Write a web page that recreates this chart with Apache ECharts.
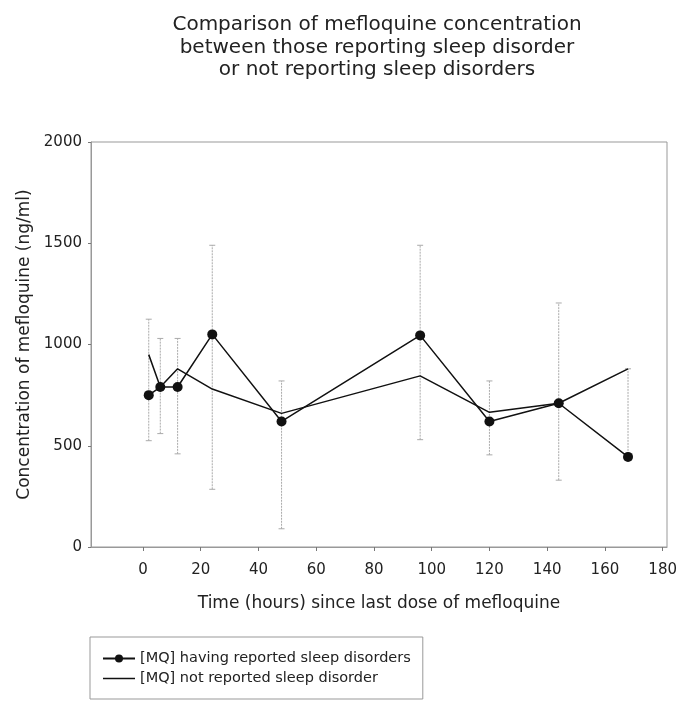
<!DOCTYPE html>
<html>
<head>
<meta charset="UTF-8">
<title>Mefloquine concentration</title>
<script type="text/javascript" src="https://cdn.jsdelivr.net/npm/echarts@6/dist/echarts.min.js"></script>
<style>
	html, body { margin: 0; padding: 0; background: #fff; }
</style>
</head>
<body>
	<div id="box" style="width:685px;height:702px;"></div>
	<script type="text/javascript">
		// hours since last dose
		var hours = [2, 6, 12, 24, 48, 96, 120, 144, 168];
		// [MQ] ng/ml
		var sleepDisorder = [750, 790, 790, 1050, 620, 1045, 620, 710, 445];
		var noSleepDisorder = [950, 790, 880, 780, 660, 845, 665, 710, 880];
		// error bar low / high
		var barLow = [525, 560, 460, 285, 90, 530, 455, 330, 445];
		var barHigh = [1125, 1030, 1030, 1490, 820, 1490, 820, 1205, 880];
		var xTicks = [0, 20, 40, 60, 80, 100, 120, 140, 160, 180];

		var font = 'DejaVu Sans, Liberation Sans, sans-serif';
		var ink = '#222';

		function pairs(ys) {
			return hours.map(function (h, i) { return [h, ys[i]]; });
		}
		var bars = hours.map(function (h, i) { return [h, barLow[i], barHigh[i]]; });

		var mychart = echarts.init(document.getElementById('box'));
		var option = {
			animation: false,
			title: {
				text: 'Comparison of mefloquine concentration\nbetween those reporting sleep disorder\nor not reporting sleep disorders',
				left: 372,
				top: 9,
				textAlign: 'center',
				textStyle: { fontFamily: font, fontSize: 20, fontWeight: 'normal', color: ink, lineHeight: 22.5 }
			},
			legend: {
				orient: 'vertical',
				left: 90,
				top: 637,
				padding: [14, 12, 13, 12],
				itemGap: 5,
				itemWidth: 32,
				itemHeight: 10,
				borderColor: '#999',
				borderWidth: 1,
				textStyle: { fontFamily: font, fontSize: 14.5, color: ink },
				data: [
					'[MQ] having reported sleep disorders',
					{ name: '[MQ] not reported sleep disorder', icon: 'path://M0,0L32,0L32,1.5L0,1.5Z' }
				]
			},
			grid: {
				left: 91, right: 18, top: 142, bottom: 155,
				show: true, borderColor: '#999', borderWidth: 1
			},
			xAxis: {
				type: 'value',
				min: -18,
				max: 181.5,
				name: 'Time (hours) since last dose of mefloquine',
				nameLocation: 'middle',
				nameGap: 48,
				nameTextStyle: { fontFamily: font, fontSize: 17, color: ink },
				axisLine: { lineStyle: { color: '#999' } },
				axisTick: { customValues: xTicks, length: 4, lineStyle: { color: '#777' } },
				axisLabel: { customValues: xTicks, margin: 16, fontFamily: font, fontSize: 15, color: ink },
				splitLine: { show: false }
			},
			yAxis: {
				type: 'value',
				min: 0,
				max: 2000,
				interval: 500,
				name: 'Concentration of mefloquine (ng/ml)',
				nameLocation: 'middle',
				nameGap: 58,
				nameTextStyle: { fontFamily: font, fontSize: 17, color: ink },
				axisLine: { show: true, onZero: false, lineStyle: { color: '#999' } },
				axisTick: { show: true, length: 3, lineStyle: { color: '#777' } },
				axisLabel: {
					margin: 9, fontFamily: font, fontSize: 15, color: ink,
					formatter: function (v) { return String(v); }
				},
				splitLine: { show: false }
			},
			series: [{
				type: 'custom',
				z: 1,
				silent: true,
				data: bars,
				renderItem: function (params, api) {
					var x = api.value(0);
					var lo = api.coord([x, api.value(1)]);
					var hi = api.coord([x, api.value(2)]);
					var st = { stroke: '#aaa', lineWidth: 1, lineDash: [2, 1] };
					return {
						type: 'group',
						children: [
							{ type: 'line', shape: { x1: lo[0], y1: lo[1], x2: hi[0], y2: hi[1] }, style: st },
							{ type: 'line', shape: { x1: lo[0] - 3, y1: lo[1], x2: lo[0] + 3, y2: lo[1] }, style: { stroke: '#aaa', lineWidth: 1 } },
							{ type: 'line', shape: { x1: hi[0] - 3, y1: hi[1], x2: hi[0] + 3, y2: hi[1] }, style: { stroke: '#aaa', lineWidth: 1 } }
						]
					};
				}
			}, {
				name: '[MQ] having reported sleep disorders',
				type: 'line',
				z: 3,
				data: pairs(sleepDisorder),
				symbol: 'circle',
				symbolSize: 10,
				itemStyle: { color: '#111' },
				lineStyle: { color: '#111', width: 1.5 }
			}, {
				name: '[MQ] not reported sleep disorder',
				type: 'line',
				z: 2,
				data: pairs(noSleepDisorder),
				symbol: 'none',
				itemStyle: { color: '#111' },
				lineStyle: { color: '#111', width: 1.5 }
			}]
		};
		mychart.setOption(option);
	</script>
</body>
</html>
